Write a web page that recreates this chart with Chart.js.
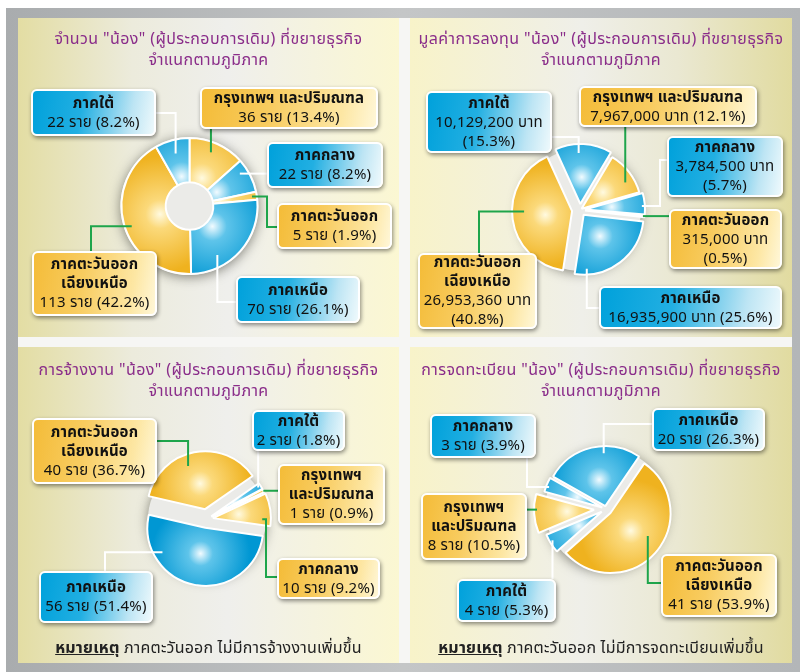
<!DOCTYPE html>
<html lang="th">
<head>
<meta charset="utf-8">
<script src="https://cdn.jsdelivr.net/npm/chart.js@4.4.1/dist/chart.umd.min.js"></script>
<style>
  body { margin: 0; width: 800px; height: 672px; background: #fff; position: relative; overflow: hidden;
         font-family: 'Noto Sans Thai', 'Noto Sans', 'DejaVu Sans', sans-serif; }
  .frame { position: absolute; left: 6px; top: 8px; width: 794px; height: 664px;
           background: linear-gradient(90deg, #a9acae 0%, #c4c6c7 50%, #b3b6b8 100%); }
  .gap { position: absolute; background: #f6f6f4; }
  .panel { position: absolute; overflow: hidden; }
  .panel.L { background: linear-gradient(90deg, #e3dda3 0%, #ecebdc 30%, #efefec 55%, #fbf7d2 100%); }
  .panel.R { background: linear-gradient(90deg, #f8f3c9 0%, #efefe9 45%, #eae8d2 70%, #e1dba0 100%); }
  .panel canvas { position: absolute; left: 0; top: 0; }
  .title { position: absolute; left: 0; right: 0; text-align: center; color: #8a2d8a; font-size: 16px;
           letter-spacing: 0.4px; line-height: 21px; white-space: nowrap; }
  .box { position: absolute; box-sizing: border-box; border: 2px solid #fff; border-radius: 6px;
         box-shadow: 1px 2px 4px rgba(0,0,0,.45); text-align: center; font-size: 15px; letter-spacing: 0.2px;
         line-height: 19px; color: #111; display: flex; flex-direction: column; justify-content: center;
         white-space: nowrap; }
  .blue { background: linear-gradient(100deg, #00a1db 0%, #22afe2 40%, #bde5f4 80%, #eef9fc 100%); }
  .yellow { background: linear-gradient(100deg, #f4bc38 0%, #f8cc60 40%, #fde7a4 80%, #fff7d8 100%); }
  .note { position: absolute; left: 0; right: 0; text-align: center; font-size: 16px; letter-spacing: 0.2px;
          color: #222; white-space: nowrap; }
  .note b { text-decoration: underline; }
</style>
</head>
<body>
<div class="frame"></div>
<div class="gap" style="left:399px; top:18px; width:11px; height:645px;"></div>
<div class="gap" style="left:18px; top:337px; width:774px; height:10px;"></div>
<script>
// ---- data ----
const countLabels = ['กรุงเทพฯ และปริมณฑล', 'ภาคกลาง', 'ภาคตะวันออก', 'ภาคเหนือ', 'ภาคตะวันออก\nเฉียงเหนือ', 'ภาคใต้'];
const countValues = [36, 22, 5, 70, 113, 22];
const countTones = ['Y', 'B', 'Y', 'B', 'Y', 'B'];

const investLabels = ['ภาคใต้', 'กรุงเทพฯ และปริมณฑล', 'ภาคกลาง', 'ภาคตะวันออก', 'ภาคเหนือ', 'ภาคตะวันออก\nเฉียงเหนือ'];
const investValues = [10129200, 7967000, 3784500, 315000, 16935900, 26953360];
const investTones = ['B', 'Y', 'B', 'Y', 'B', 'Y'];

const hireLabels = ['ภาคตะวันออก\nเฉียงเหนือ', 'ภาคใต้', 'กรุงเทพฯ\nและปริมณฑล', 'ภาคกลาง', 'ภาคเหนือ'];
const hireValues = [40, 2, 1, 10, 56];
const hireTones = ['Y', 'B', 'Y', 'Y', 'B'];

const regLabels = ['ภาคเหนือ', 'ภาคตะวันออก\nเฉียงเหนือ', 'ภาคใต้', 'กรุงเทพฯ\nและปริมณฑล', 'ภาคกลาง'];
const regValues = [20, 41, 4, 8, 3];
const regTones = ['B', 'Y', 'B', 'Y', 'B'];

const subTitle = 'จำแนกตามภูมิภาค';

// ---- layout ----
const panels = [
    {
        side: 'L', left: 18, top: 18, w: 381, h: 319, type: 'doughnut',
        title: 'จำนวน "น้อง" (ผู้ประกอบการเดิม) ที่ขยายธุรกิจ', titleTop: 11,
        labels: countLabels, values: countValues, tones: countTones, unit: 'ราย',
        cx: 171.5, cy: 188, r: 68, cutout: '35%', rotation: 0, explode: [0, 0, 0, 0, 0, 0],
        boxes: [
            { l: 182, t: 69, w: 178, h: 42 },
            { l: 249, t: 124, w: 116, h: 46 },
            { l: 259, t: 185, w: 115, h: 46 },
            { l: 218, t: 258, w: 124, h: 47 },
            { l: 14, t: 233, w: 125, h: 65 },
            { l: 13, t: 71, w: 125, h: 47 }
        ],
        lines: [
            { i: 5, t: 0.5, f: 0.8, c: 'w', path: [[138, 95], ['ax', 95]] },
            { i: 0, t: 0.45, f: 0.85, c: 'g', path: [['ax', 111]] },
            { i: 1, t: 0.3, f: 0.88, c: 'w', path: [[249, 'ay']] },
            { i: 2, t: 0.5, f: 0.93, c: 'g', path: [[259, 209], [249, 209], [249, 'ay']] },
            { i: 3, t: 0.7, f: 0.83, c: 'w', path: [[218, 284], ['ax', 284]] },
            { i: 4, t: 0.475, f: 0.9, c: 'g', path: [[73, 233], [73, 'ay']] }
        ]
    },
    {
        side: 'R', left: 410, top: 18, w: 382, h: 319, type: 'pie',
        title: 'มูลค่าการลงทุน "น้อง" (ผู้ประกอบการเดิม) ที่ขยายธุรกิจ', titleTop: 11,
        labels: investLabels, values: investValues, tones: investTones, unit: 'บาท',
        cx: 170, cy: 192, r: 60, rotation: -24.5, explode: [6, 2, 5, 5, 6, 8],
        boxes: [
            { l: 16, t: 73, w: 126, h: 62, split: true },
            { l: 169, t: 68, w: 178, h: 41 },
            { l: 257, t: 118, w: 116, h: 61, split: true },
            { l: 259, t: 191, w: 113, h: 60, split: true },
            { l: 189, t: 268, w: 183, h: 43 },
            { l: 8, t: 235, w: 119, h: 76, split: true }
        ],
        lines: [
            { i: 0, t: 0.41, f: 0.85, c: 'w', path: [[142, 119], ['ax', 119]] },
            { i: 1, t: 0.65, f: 0.85, c: 'g', path: [['ax', 109]] },
            { i: 2, t: 0.6, f: 0.95, c: 'w', path: [[257, 142], [250, 142], [250, 'ay']] },
            { i: 3, t: 0.5, f: 0.97, c: 'g', path: [[259, 'ay']] },
            { i: 4, t: 0.87, f: 0.9, c: 'w', path: [[189, 290], ['ax', 290]] },
            { i: 5, t: 0.55, f: 0.8, c: 'g', path: [[69, 235], [69, 'ay']] }
        ]
    },
    {
        side: 'L', left: 18, top: 347, w: 381, h: 316, type: 'pie',
        title: 'การจ้างงาน "น้อง" (ผู้ประกอบการเดิม) ที่ขยายธุรกิจ', titleTop: 13,
        note: 'ภาคตะวันออก ไม่มีการจ้างงานเพิ่มขึ้น',
        labels: hireLabels, values: hireValues, tones: hireTones, unit: 'ราย',
        cx: 189, cy: 172, r: 58, rotation: -77, explode: [10, 5, 5, 6, 9],
        boxes: [
            { l: 14, t: 71, w: 125, h: 66 },
            { l: 234, t: 63, w: 93, h: 41 },
            { l: 260, t: 117, w: 107, h: 61 },
            { l: 259, t: 211, w: 103, h: 41 },
            { l: 21, t: 224, w: 114, h: 52 }
        ],
        lines: [
            { i: 0, t: 0.42, f: 0.8, c: 'g', path: [[139, 94], ['ax', 94]] },
            { i: 1, t: 0.5, f: 0.95, c: 'w', path: [['ax', 104]] },
            { i: 2, t: 0.5, f: 1.0, c: 'g', path: [[260, 'ay']] },
            { i: 3, t: 0.8, f: 0.85, c: 'g', path: [[259, 230], [248, 230], [248, 'ay']] },
            { i: 4, t: 0.77, f: 0.85, c: 'w', path: [[87, 224], [87, 'ay']] }
        ]
    },
    {
        side: 'R', left: 410, top: 347, w: 382, h: 316, type: 'pie',
        title: 'การจดทะเบียน "น้อง" (ผู้ประกอบการเดิม) ที่ขยายธุรกิจ', titleTop: 13,
        note: 'ภาคตะวันออก ไม่มีการจดทะเบียนเพิ่มขึ้น',
        labels: regLabels, values: regValues, tones: regTones, unit: 'ราย',
        cx: 196, cy: 162, r: 60, rotation: -60.5, explode: [3, 6, 5, 12, 4],
        boxes: [
            { l: 242, t: 61, w: 113, h: 43 },
            { l: 251, t: 207, w: 116, h: 63 },
            { l: 47, t: 232, w: 99, h: 43 },
            { l: 11, t: 146, w: 106, h: 67 },
            { l: 20, t: 67, w: 106, h: 44 }
        ],
        lines: [
            { i: 0, t: 0.62, f: 0.88, c: 'w', path: [[242, 77], ['ax', 77]] },
            { i: 1, t: 0.45, f: 0.73, c: 'g', path: [[251, 236], ['ax', 236]] },
            { i: 2, t: 0.6, f: 0.95, c: 'w', path: [['ax', 232]] },
            { i: 3, t: 0.6, f: 0.95, c: 'g', path: [[117, 'ay']] },
            { i: 4, t: 0.4, f: 0.95, c: 'w', path: [[117, 111], [117, 'ay']] }
        ]
    }
];

const BLUE = ['#f2fbff', '#5ec4ea', '#0097d3'];
const YELLOW = ['#fffae0', '#fbd97a', '#efb21f'];

function pct(v, total) {
    return (v / total * 100).toFixed(1);
}

// radial highlight per slice, centred inside the slice
function sliceFill(context, p) {
    const tone = p.tones[context.dataIndex] === 'B' ? BLUE : YELLOW;
    const chart = context.chart;
    const area = chart.chartArea;
    if (!area) return tone[2];
    const total = p.values.reduce((a, b) => a + b, 0);
    let before = 0;
    for (let k = 0; k < context.dataIndex; k++) before += p.values[k];
    const midDeg = p.rotation + (before + p.values[context.dataIndex] / 2) / total * 360 - 90;
    const a = midDeg * Math.PI / 180;
    const cx = (area.left + area.right) / 2;
    const cy = (area.top + area.bottom) / 2;
    const d = p.r * 0.45 + (p.explode[context.dataIndex] || 0);
    const gx = cx + Math.cos(a) * d;
    const gy = cy + Math.sin(a) * d;
    const g = chart.ctx.createRadialGradient(gx, gy, 0, gx, gy, p.r * 0.85);
    g.addColorStop(0, tone[0]);
    g.addColorStop(0.25, tone[1]);
    g.addColorStop(1, tone[2]);
    return g;
}

function piecePlugin(p) {
    return {
        id: 'piece',
        beforeDatasetsDraw(chart) {
            const arcs = chart.getDatasetMeta(0).data;
            const ctx = chart.ctx;
            const first = arcs[0];
            // backing disc with soft shadow
            ctx.save();
            ctx.shadowColor = 'rgba(40,40,30,0.55)';
            ctx.shadowBlur = 12;
            ctx.shadowOffsetY = 2;
            ctx.fillStyle = '#ebebe8';
            ctx.beginPath();
            ctx.arc(first.x, first.y, first.outerRadius + 1, 0, Math.PI * 2);
            ctx.fill();
            ctx.restore();
            // pull slices apart
            arcs.forEach((arc, i) => {
                const d = p.explode[i] || 0;
                const mid = (arc.startAngle + arc.endAngle) / 2;
                arc._dx = Math.cos(mid) * d;
                arc._dy = Math.sin(mid) * d;
                arc.x += arc._dx;
                arc.y += arc._dy;
            });
        },
        afterDatasetsDraw(chart) {
            const arcs = chart.getDatasetMeta(0).data;
            const ctx = chart.ctx;
            p.lines.forEach(ln => {
                const arc = arcs[ln.i];
                const a = arc.startAngle + ln.t * (arc.endAngle - arc.startAngle);
                const ax = arc.x + Math.cos(a) * arc.outerRadius * ln.f;
                const ay = arc.y + Math.sin(a) * arc.outerRadius * ln.f;
                const pts = ln.path.map(([x, y]) => [x === 'ax' ? ax : x, y === 'ay' ? ay : y]);
                pts.push([ax, ay]);
                ctx.save();
                ctx.strokeStyle = ln.c === 'g' ? '#1ea54b' : '#ffffff';
                ctx.lineWidth = 2;
                ctx.lineJoin = 'miter';
                ctx.beginPath();
                ctx.moveTo(pts[0][0], pts[0][1]);
                for (let k = 1; k < pts.length; k++) ctx.lineTo(pts[k][0], pts[k][1]);
                ctx.stroke();
                ctx.restore();
            });
            arcs.forEach(arc => {
                arc.x -= arc._dx;
                arc.y -= arc._dy;
            });
        }
    };
}

function fmt(v) {
    return v.toLocaleString('en-US');
}

function buildPanel(p) {
    const el = document.createElement('div');
    el.className = 'panel ' + p.side;
    el.style.cssText = `left:${p.left}px; top:${p.top}px; width:${p.w}px; height:${p.h}px;`;
    document.body.appendChild(el);

    const canvas = document.createElement('canvas');
    canvas.width = p.w;
    canvas.height = p.h;
    el.appendChild(canvas);

    const title = document.createElement('div');
    title.className = 'title';
    title.style.top = p.titleTop + 'px';
    title.innerHTML = `${p.title}<br>${subTitle}`;
    el.appendChild(title);

    const total = p.values.reduce((a, b) => a + b, 0);
    p.boxes.forEach((b, i) => {
        const box = document.createElement('div');
        box.className = 'box ' + (p.tones[i] === 'B' ? 'blue' : 'yellow');
        box.style.cssText = `left:${b.l}px; top:${b.t}px; width:${b.w}px; height:${b.h}px;`;
        const name = p.labels[i].split('\n').map(s => `<b>${s}</b>`).join('<br>');
        const amount = `${fmt(p.values[i])} ${p.unit}`;
        const share = `(${pct(p.values[i], total)}%)`;
        box.innerHTML = `<div>${name}</div><div>${amount}${b.split ? '<br>' : ' '}${share}</div>`;
        el.appendChild(box);
    });

    if (p.note) {
        const note = document.createElement('div');
        note.className = 'note';
        note.style.top = (p.h - 27) + 'px';
        note.innerHTML = `<b>หมายเหตุ</b> ${p.note}`;
        el.appendChild(note);
    }

    const a = 90;
    new Chart(canvas, {
        type: p.type,
        data: {
            labels: p.labels.map(s => s.replace('\n', '')),
            datasets: [{
                data: p.values,
                backgroundColor: ctx => sliceFill(ctx, p),
                borderColor: '#ffffff',
                borderWidth: 2,
                radius: p.r,
                rotation: p.rotation,
                cutout: p.cutout || 0
            }]
        },
        options: {
            responsive: false,
            animation: false,
            events: [],
            layout: {
                padding: { left: p.cx - a, right: p.w - p.cx - a, top: p.cy - a, bottom: p.h - p.cy - a }
            },
            plugins: {
                legend: { display: false },
                tooltip: { enabled: false }
            }
        },
        plugins: [piecePlugin(p)]
    });
}

panels.forEach(buildPanel);
</script>
</body>
</html>
